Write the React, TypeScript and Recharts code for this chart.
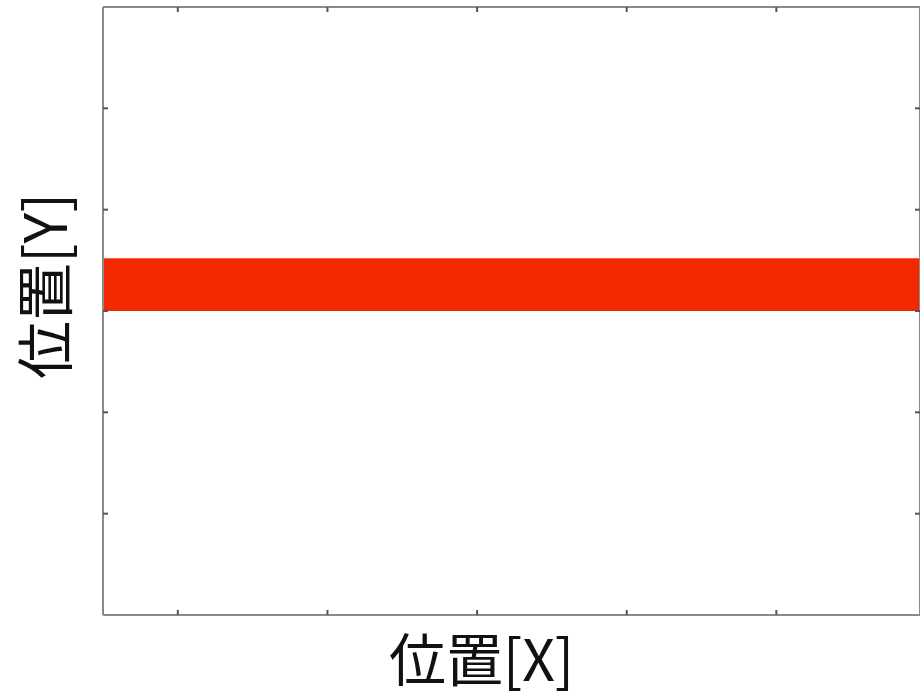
import { ComposedChart, Area, XAxis, YAxis } from "recharts";

// band extents along the x axis and its lower / upper y bound
const xExtent = [0.5, 5.96];
const bandLow = [3.0, 3.0];
const bandHigh = [3.52, 3.52];

const xTicks = [1, 2, 3, 4, 5];
const yTicks = [1, 2, 3, 4, 5];

const xLabel = "位置[X]";
const yLabel = "位置[Y]";

const data = xExtent.map((x, i) => ({ x, band: [bandLow[i], bandHigh[i]] }));

const AXIS = "#8a8a8a";
const FONT = "'Noto Sans CJK JP', 'Noto Sans', sans-serif";

const XTitle = ({ viewBox }: any) => (
  <text
    x={viewBox.x + viewBox.width / 2 - 30}
    y={viewBox.y + 67}
    textAnchor="middle"
    fontFamily={FONT}
    fontSize={57}
    fill="#111"
  >
    {xLabel}
  </text>
);

const YTitle = ({ viewBox }: any) => {
  const cx = viewBox.x - 61;
  const cy = viewBox.y + viewBox.height / 2 - 25;
  return (
    <text
      x={cx}
      y={cy}
      transform={`rotate(-90 ${cx} ${cy})`}
      textAnchor="middle"
      dominantBaseline="central"
      fontFamily={FONT}
      fontSize={58}
      fill="#111"
    >
      {yLabel}
    </text>
  );
};

// axes sit on the frame with their ticks turned inward
const axisCommon = {
  type: "number" as const,
  allowDataOverflow: true,
  mirror: true,
  tickSize: 5,
  tickFormatter: () => "",
  axisLine: { stroke: AXIS, strokeWidth: 2 },
  tickLine: { stroke: "#555", strokeWidth: 2 },
};

export default function App() {
  return (
    <div style={{ position: "absolute", left: 0, top: 0, width: 920, height: 693, background: "#fff" }}>
      <ComposedChart
        width={920}
        height={693}
        data={data}
        margin={{ top: 7, right: 0, bottom: 78, left: 103 }}
      >
        <XAxis
          {...axisCommon}
          xAxisId="bottom"
          dataKey="x"
          orientation="bottom"
          height={1}
          domain={[xExtent[0], xExtent[1]]}
          ticks={xTicks}
          label={<XTitle />}
        />
        <XAxis
          {...axisCommon}
          xAxisId="top"
          dataKey="x"
          orientation="top"
          height={1}
          domain={[xExtent[0], xExtent[1]]}
          ticks={xTicks}
        />
        <YAxis
          {...axisCommon}
          yAxisId="left"
          orientation="left"
          width={1}
          domain={[0, 6]}
          ticks={yTicks}
          label={<YTitle />}
        />
        <YAxis
          {...axisCommon}
          yAxisId="right"
          orientation="right"
          width={1}
          domain={[0, 6]}
          ticks={yTicks}
        />
        <Area
          xAxisId="bottom"
          yAxisId="left"
          type="linear"
          dataKey="band"
          stroke="none"
          fill="#f22800"
          fillOpacity={1}
          isAnimationActive={false}
        />
      </ComposedChart>
    </div>
  );
}
